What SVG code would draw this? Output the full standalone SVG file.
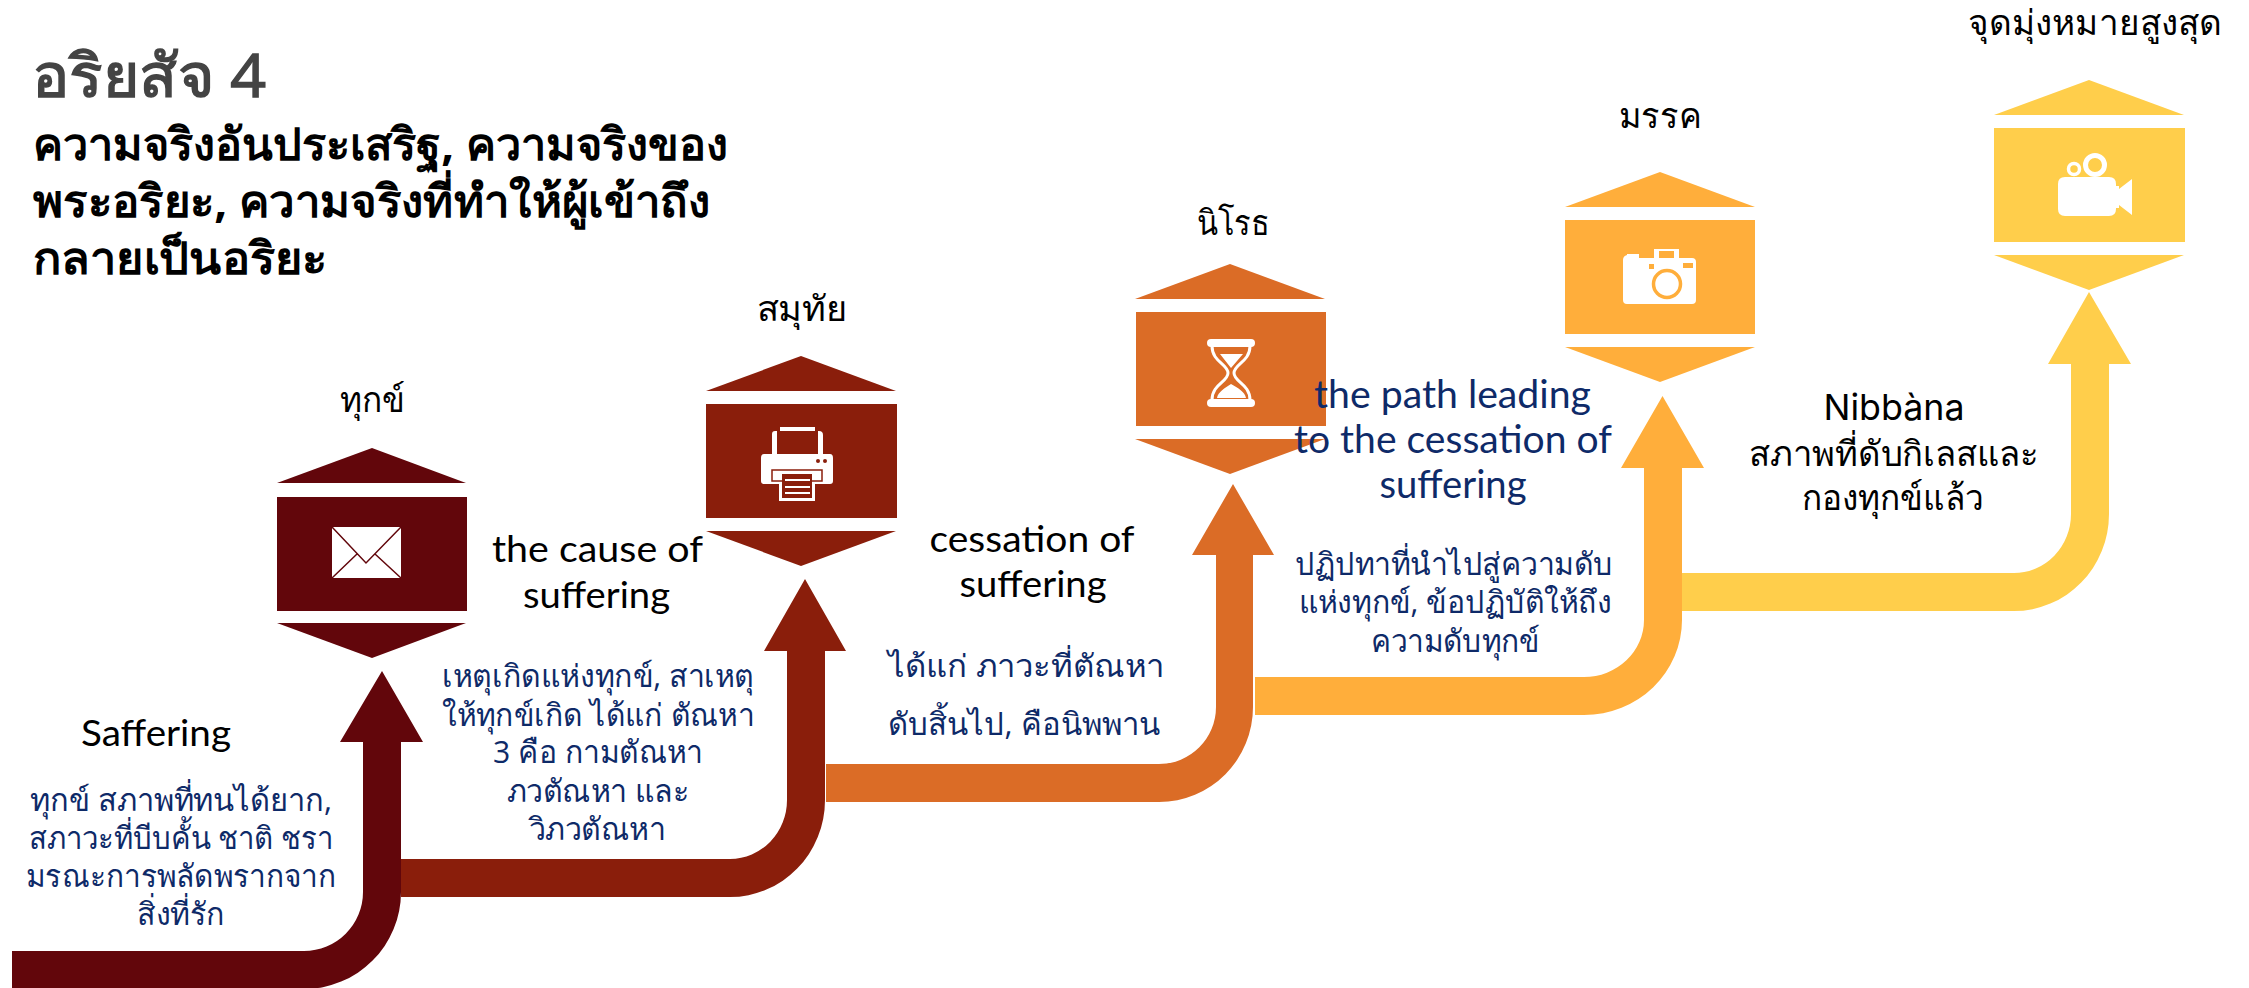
<svg xmlns="http://www.w3.org/2000/svg" width="2249" height="988" viewBox="0 0 2249 988">
<style>
text{font-family:"Open Sans","Noto Sans",sans-serif;text-anchor:middle;}
.k{fill:#000;font-size:35px}
.b{fill:#0e2a68;font-size:31px}
.h{fill:#000;font-size:37px;font-family:Lato,"Open Sans",sans-serif}
.p{fill:#0e2a68;font-size:39px;font-family:Lato,"Open Sans",sans-serif}
.n{fill:#000;font-size:36px;font-family:Inter,"Noto Sans",sans-serif}
.s{font-family:"Noto Sans",sans-serif;font-weight:700;font-size:45px;text-anchor:start;fill:#000}
.w{fill:#fff}
</style>
<rect width="2249" height="988" fill="#fff"/>
<g id="connectors">
<path id="c5" fill="#ffce4b" d="M1682 573H2014A57 59 0 0 0 2071 514V364H2048L2089 292L2131 364H2109V514A95 97 0 0 1 2014 611H1682Z"/>
<path id="c4" fill="#ffae3b" d="M1255 677H1584A60 57 0 0 0 1644 620V468H1621L1662.500 396L1704 468H1682V620A98 95 0 0 1 1584 715H1255Z"/>
<path id="c3" fill="#db6c26" d="M826 764H1159A57 57 0 0 0 1216 707V555H1192L1233 484L1274 555H1253V707A94 95 0 0 1 1159 802H826Z"/>
<path id="c2" fill="#8a1e0b" d="M401 859H730A57 59 0 0 0 787 800V651H764L805 579L846 651H825V800A95 97 0 0 1 730 897H401Z"/>
<path id="c1" fill="#62060b" d="M12 951H304A59 59 0 0 0 363 892V742H340L382 671L423 742H401V892A97 97 0 0 1 304 989H12Z"/>
</g>
<g id="node1" fill="#62060b">
<path d="M372 448L466 483H277Z"/><rect x="277" y="497" width="190" height="114"/><path d="M277 623H466L372 658Z"/>
<rect class="w" x="332" y="527" width="69" height="51"/>
<path d="M332 527L366 563L401 527M332 578L357 554M401 578L375 554" fill="none" stroke="#62060b" stroke-width="1.500"/>
</g>
<g id="node2" fill="#8a1e0b">
<path d="M801 356L896 391H706Z"/><rect x="706" y="404" width="191" height="114"/><path d="M706 531H896L801 566Z"/>
<path class="w" d="M772 454V434Q772 431 775 431H780V427H815V431H819Q823 431 823 435V454H818V431H777V454H764Q761 454 761 458V481Q761 484 764 484H779V501H815V484H830Q833 484 833 481V458Q833 454 830 454H772Z"/>
<rect x="772" y="470" width="50" height="11" fill="none" stroke="#8a1e0b" stroke-width="1.500"/>
<rect x="782" y="474" width="30" height="24"/>
<path d="M785 480H810M785 487H810M785 493H810" stroke="#fff" stroke-width="2"/>
<circle cx="818" cy="461" r="2"/><circle cx="825" cy="461" r="2"/>
</g>
<g id="node3" fill="#db6c26">
<path d="M1230 264L1325 299H1135Z"/><rect x="1136" y="312" width="190" height="114"/><path d="M1135 439H1325L1230 474Z"/>
<rect class="w" x="1207" y="339" width="48" height="8" rx="4"/><rect class="w" x="1207" y="399" width="48" height="8" rx="4"/>
<path d="M1212 346C1212 362 1228 364 1228 373C1228 382 1212 384 1212 400M1250 346C1250 362 1234 364 1234 373C1234 382 1250 384 1250 400" fill="none" stroke="#fff" stroke-width="3"/>
<path class="w" d="M1220 354H1243L1231 368ZM1231 384C1238 388 1245 392 1246 398H1217C1218 392 1225 388 1231 384Z"/>
</g>
<g id="node4" fill="#ffae3b">
<path d="M1660 172L1755 207H1565Z"/><rect x="1565" y="220" width="190" height="114"/><path d="M1565 347H1755L1660 382Z"/>
<path class="w" d="M1623 260Q1623 256 1627 255V254H1639V258H1654V249H1679V258H1692Q1696 258 1696 262V300Q1696 304 1692 304H1627Q1623 304 1623 300Z"/>
<circle cx="1667" cy="284" r="13.500" fill="none" stroke="#ffae3b" stroke-width="3.500"/>
<rect x="1659" y="251" width="15" height="7"/><rect x="1683" y="263" width="10" height="5"/><rect x="1649" y="264" width="5" height="5"/>
</g>
<g id="node5" fill="#ffce4b">
<path d="M2089 80L2184 115H1994Z"/><rect x="1994" y="128" width="191" height="114"/><path d="M1994 255H2184L2089 290Z"/>
<path class="w" d="M2058 184Q2058 177 2065 177H2109Q2116 177 2116 184V186L2119 186V189L2132 179V215L2119 205V208L2116 208V209Q2116 216 2109 216H2065Q2058 216 2058 209Z"/>
<circle cx="2095" cy="165" r="9.500" fill="none" stroke="#fff" stroke-width="5"/>
<circle cx="2074" cy="169" r="5.500" fill="none" stroke="#fff" stroke-width="3.500"/>
</g>
<g id="labels">
<text x="32" y="97" textLength="234" lengthAdjust="spacingAndGlyphs" style="text-anchor:start;font-size:60px;fill:#444;stroke:#444;stroke-width:1.500px">อริยสัจ 4</text>
<text class="s" x="33" y="160" textLength="695" lengthAdjust="spacingAndGlyphs">ความจริงอันประเสริฐ, ความจริงของ</text>
<text class="s" x="33" y="217" textLength="677" lengthAdjust="spacingAndGlyphs">พระอริยะ, ความจริงที่ทำให้ผู้เข้าถึง</text>
<text class="s" x="33" y="274" textLength="294" lengthAdjust="spacingAndGlyphs">กลายเป็นอริยะ</text>
<text class="k" x="372.500" y="412" textLength="65" lengthAdjust="spacingAndGlyphs">ทุกข์</text>
<text class="k" x="802" y="321" textLength="91" lengthAdjust="spacingAndGlyphs">สมุทัย</text>
<text class="k" x="1233" y="235" textLength="73" lengthAdjust="spacingAndGlyphs">นิโรธ</text>
<text class="k" x="1660" y="128" textLength="82" lengthAdjust="spacingAndGlyphs">มรรค</text>
<text class="k" x="2095" y="35" textLength="254" lengthAdjust="spacingAndGlyphs">จุดมุ่งหมายสูงสุด</text>
<text class="h" x="156" y="746" textLength="150" lengthAdjust="spacingAndGlyphs">Saffering</text>
<text class="b" x="181" y="811" textLength="302" lengthAdjust="spacingAndGlyphs">ทุกข์ สภาพที่ทนได้ยาก,</text>
<text class="b" x="181" y="849" textLength="304" lengthAdjust="spacingAndGlyphs">สภาวะที่บีบคั้น ชาติ ชรา</text>
<text class="b" x="181" y="887" textLength="310" lengthAdjust="spacingAndGlyphs">มรณะการพลัดพรากจาก</text>
<text class="b" x="181" y="925" textLength="88" lengthAdjust="spacingAndGlyphs">สิ่งที่รัก</text>
<text class="h" x="597.500" y="562" textLength="211" lengthAdjust="spacingAndGlyphs">the cause of</text>
<text class="h" x="596.500" y="608" textLength="147" lengthAdjust="spacingAndGlyphs">suffering</text>
<text class="b" x="598" y="687" textLength="312" lengthAdjust="spacingAndGlyphs">เหตุเกิดแห่งทุกข์, สาเหตุ</text>
<text class="b" x="598" y="726" textLength="312" lengthAdjust="spacingAndGlyphs">ให้ทุกข์เกิด ได้แก่ ตัณหา</text>
<text class="b" x="598" y="763" textLength="210" lengthAdjust="spacingAndGlyphs">3 คือ กามตัณหา</text>
<text class="b" x="598" y="802" textLength="183" lengthAdjust="spacingAndGlyphs">ภวตัณหา และ</text>
<text class="b" x="597" y="840" textLength="137" lengthAdjust="spacingAndGlyphs">วิภวตัณหา</text>
<text class="h" x="1032" y="552" textLength="205" lengthAdjust="spacingAndGlyphs">cessation of</text>
<text class="h" x="1033" y="597" textLength="147" lengthAdjust="spacingAndGlyphs">suffering</text>
<text class="b" x="1026" y="677" textLength="276" lengthAdjust="spacingAndGlyphs">ได้แก่ ภาวะที่ตัณหา</text>
<text class="b" x="1024" y="735" textLength="272" lengthAdjust="spacingAndGlyphs">ดับสิ้นไป, คือนิพพาน</text>
<text class="p" x="1452.500" y="408" textLength="277" lengthAdjust="spacingAndGlyphs">the path leading</text>
<text class="p" x="1453" y="453" textLength="318" lengthAdjust="spacingAndGlyphs">to the cessation of</text>
<text class="p" x="1453" y="498" textLength="147" lengthAdjust="spacingAndGlyphs">suffering</text>
<text class="b" x="1454" y="575" textLength="318" lengthAdjust="spacingAndGlyphs">ปฏิปทาที่นำไปสู่ความดับ</text>
<text class="b" x="1455" y="613" textLength="313" lengthAdjust="spacingAndGlyphs">แห่งทุกข์, ข้อปฏิบัติให้ถึง</text>
<text class="b" x="1455" y="652" textLength="169" lengthAdjust="spacingAndGlyphs">ความดับทุกข์</text>
<text class="n" x="1894" y="420" textLength="141" lengthAdjust="spacingAndGlyphs">Nibbàna</text>
<text class="k" x="1894" y="466" textLength="290" lengthAdjust="spacingAndGlyphs">สภาพที่ดับกิเลสและ</text>
<text class="k" x="1893" y="510" textLength="182" lengthAdjust="spacingAndGlyphs">กองทุกข์แล้ว</text>
</g>
</svg>
